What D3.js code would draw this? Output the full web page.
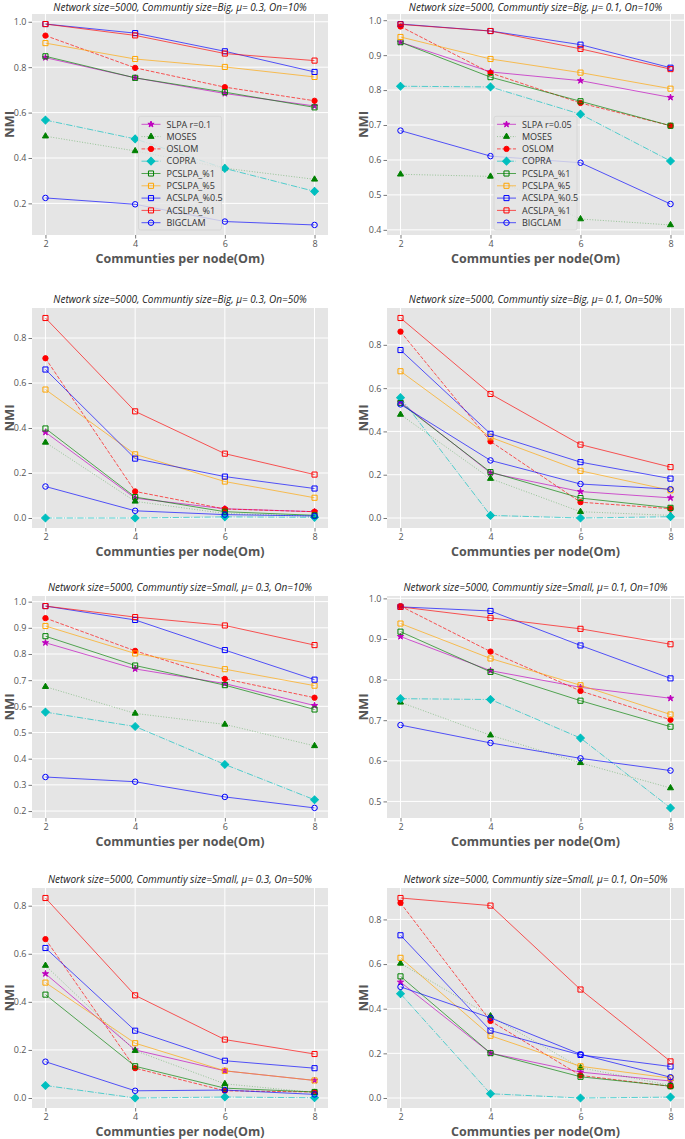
<!DOCTYPE html>
<html><head><meta charset="utf-8">
<script src="https://cdn.jsdelivr.net/npm/d3@7"></script>
<style>
html,body{margin:0;padding:0;background:#fff;}
text{font-family:"Open Sans","DejaVu Sans",sans-serif;}
</style></head>
<body><svg id="c" width="685" height="1139"></svg>
<script>
// ---------- data ----------
const omValues = [2, 4, 6, 8];
const methods = ["SLPA", "MOSES", "OSLOM", "COPRA", "PCSLPA_%1", "PCSLPA_%5", "ACSLPA_%0.5", "ACSLPA_%1", "BIGCLAM"];
const legendLabelsA = ["SLPA r=0.1", "MOSES", "OSLOM", "COPRA", "PCSLPA_%1", "PCSLPA_%5", "ACSLPA_%0.5", "ACSLPA_%1", "BIGCLAM"];
const legendLabelsB = ["SLPA r=0.05", "MOSES", "OSLOM", "COPRA", "PCSLPA_%1", "PCSLPA_%5", "ACSLPA_%0.5", "ACSLPA_%1", "BIGCLAM"];
const titles = [
  "Network size=5000, Communtiy size=Big, μ= 0.3, On=10%",
  "Network size=5000, Communtiy size=Big, μ= 0.1, On=10%",
  "Network size=5000, Communtiy size=Big, μ= 0.3, On=50%",
  "Network size=5000, Communtiy size=Big, μ= 0.1, On=50%",
  "Network size=5000, Communtiy size=Small, μ= 0.3, On=10%",
  "Network size=5000, Communtiy size=Small, μ= 0.1, On=10%",
  "Network size=5000, Communtiy size=Small, μ= 0.3, On=50%",
  "Network size=5000, Communtiy size=Small, μ= 0.1, On=50%"
];
// rows follow `methods` order
const bigMu03On10 = [
  [0.842, 0.753, 0.684, 0.629],
  [0.496, 0.431, 0.355, 0.306],
  [0.939, 0.797, 0.712, 0.652],
  [0.567, 0.484, 0.354, 0.253],
  [0.848, 0.753, 0.690, 0.623],
  [0.906, 0.836, 0.801, 0.757],
  [0.990, 0.950, 0.870, 0.779],
  [0.990, 0.940, 0.860, 0.829],
  [0.224, 0.196, 0.120, 0.105]
];
const bigMu01On10 = [
  [0.937, 0.852, 0.827, 0.779],
  [0.559, 0.553, 0.431, 0.414],
  [0.982, 0.849, 0.763, 0.698],
  [0.811, 0.809, 0.731, 0.597],
  [0.937, 0.837, 0.768, 0.698],
  [0.952, 0.889, 0.850, 0.804],
  [0.989, 0.969, 0.930, 0.864],
  [0.988, 0.969, 0.918, 0.860],
  [0.684, 0.611, 0.592, 0.474]
];
const bigMu03On50 = [
  [0.381, 0.088, 0.041, 0.028],
  [0.336, 0.074, 0.020, 0.008],
  [0.710, 0.118, 0.040, 0.028],
  [0.000, 0.000, 0.005, 0.003],
  [0.398, 0.093, 0.028, 0.012],
  [0.571, 0.283, 0.162, 0.090],
  [0.660, 0.264, 0.184, 0.131],
  [0.889, 0.474, 0.286, 0.193],
  [0.140, 0.032, 0.015, 0.009]
];
const bigMu01On50 = [
  [0.536, 0.208, 0.122, 0.093],
  [0.478, 0.182, 0.029, 0.012],
  [0.861, 0.354, 0.073, 0.043],
  [0.556, 0.012, 0.000, 0.006],
  [0.531, 0.212, 0.092, 0.047],
  [0.678, 0.373, 0.218, 0.128],
  [0.776, 0.389, 0.258, 0.182],
  [0.924, 0.573, 0.339, 0.235],
  [0.525, 0.266, 0.157, 0.133]
];
const smallMu03On10 = [
  [0.843, 0.743, 0.687, 0.603],
  [0.675, 0.573, 0.531, 0.449],
  [0.937, 0.812, 0.705, 0.633],
  [0.578, 0.523, 0.378, 0.243],
  [0.868, 0.756, 0.681, 0.588],
  [0.907, 0.802, 0.742, 0.679],
  [0.983, 0.930, 0.815, 0.702],
  [0.983, 0.941, 0.909, 0.834],
  [0.330, 0.312, 0.254, 0.212]
];
const smallMu01On10 = [
  [0.906, 0.822, 0.781, 0.754],
  [0.744, 0.663, 0.595, 0.533],
  [0.981, 0.869, 0.772, 0.701],
  [0.753, 0.751, 0.656, 0.484],
  [0.918, 0.819, 0.748, 0.684],
  [0.938, 0.852, 0.786, 0.714],
  [0.979, 0.969, 0.884, 0.803],
  [0.979, 0.952, 0.925, 0.887],
  [0.688, 0.644, 0.606, 0.576]
];
const smallMu03On50 = [
  [0.517, 0.200, 0.113, 0.073],
  [0.551, 0.197, 0.059, 0.023],
  [0.661, 0.124, 0.030, 0.025],
  [0.052, 0.000, 0.004, 0.001],
  [0.430, 0.132, 0.041, 0.025],
  [0.480, 0.228, 0.113, 0.073],
  [0.624, 0.280, 0.155, 0.124],
  [0.832, 0.427, 0.243, 0.183],
  [0.151, 0.030, 0.033, 0.015]
];
const smallMu01On50 = [
  [0.519, 0.201, 0.116, 0.076],
  [0.603, 0.367, 0.136, 0.056],
  [0.874, 0.345, 0.101, 0.052],
  [0.467, 0.019, 0.000, 0.004],
  [0.545, 0.201, 0.095, 0.053],
  [0.628, 0.279, 0.142, 0.089],
  [0.729, 0.302, 0.193, 0.141],
  [0.896, 0.862, 0.486, 0.164],
  [0.498, 0.359, 0.196, 0.093]
];
const ticksFine = [0.4, 0.5, 0.6, 0.7, 0.8, 0.9, 1.0];
const ticksFine2 = [0.2, 0.3, 0.4, 0.5, 0.6, 0.7, 0.8, 0.9, 1.0];
const ticksCoarse = [0.0, 0.2, 0.4, 0.6, 0.8, 1.0];
const xTicks = [2, 4, 6, 8];
const xLabel = "Communties per node(Om)";
const yLabel = "NMI";

// ---------- styles ----------
const styles = [
  {color: "#bf00bf", dash: null, op: 0.65, sym: "star", fill: true},
  {color: "#008000", dash: "1,1.65", op: 0.35, sym: "tri", fill: true},
  {color: "#ff0000", dash: "3.7,1.6", op: 0.65, sym: "circle", fill: true},
  {color: "#00bfbf", dash: "6.4,1.6,1,1.6", op: 0.65, sym: "diamond", fill: true},
  {color: "#008000", dash: null, op: 0.65, sym: "square", fill: false},
  {color: "#ffa500", dash: null, op: 0.65, sym: "square", fill: false},
  {color: "#0000ff", dash: null, op: 0.65, sym: "square", fill: false},
  {color: "#ff0000", dash: null, op: 0.65, sym: "square", fill: false},
  {color: "#0000ff", dash: null, op: 0.65, sym: "ocircle", fill: false}
];

const panels = [
  {data: bigMu03On10, ticks: ticksCoarse, legend: legendLabelsA},
  {data: bigMu01On10, ticks: ticksFine, legend: legendLabelsB},
  {data: bigMu03On50, ticks: ticksCoarse},
  {data: bigMu01On50, ticks: ticksCoarse},
  {data: smallMu03On10, ticks: ticksFine2},
  {data: smallMu01On10, ticks: ticksFine},
  {data: smallMu03On50, ticks: ticksCoarse},
  {data: smallMu01On50, ticks: ticksCoarse}
];

const colX = [[32, 328], [387, 684]];
const rowY = [[14, 235], [308, 528], [596, 818], [888, 1108]];

const svg = d3.select("#c");

function drawMarker(g, st, cx, cy) {
  let path;
  if (st.sym === "star") { path = d3.symbol(d3.symbolStar, 12)(); }
  else if (st.sym === "tri") { path = d3.symbol(d3.symbolTriangle, 16)(); }
  else if (st.sym === "circle") { path = d3.symbol(d3.symbolCircle, 22)(); }
  else if (st.sym === "ocircle") { path = d3.symbol(d3.symbolCircle, 24)(); }
  else if (st.sym === "diamond") { path = d3.symbol(d3.symbolSquare, 30)(); }
  else { path = d3.symbol(d3.symbolSquare, 26)(); }
  const p = g.append("path").attr("d", path)
    .attr("transform", `translate(${cx},${cy})` + (st.sym === "diamond" ? " rotate(45)" : ""))
    .attr("stroke", st.color).attr("stroke-width", 1);
  p.attr("fill", st.fill ? st.color : "none");
}

panels.forEach((pn, i) => {
  const [x0, x1] = colX[i % 2];
  const [y0, y1] = rowY[Math.floor(i / 2)];
  const all = pn.data.flat();
  const mn = d3.min(all), mx = d3.max(all), pad = (mx - mn) * 0.05;
  const x = d3.scaleLinear().domain([1.7, 8.3]).range([x0, x1]);
  const y = d3.scaleLinear().domain([mn - pad, mx + pad]).range([y1, y0]);
  const g = svg.append("g");

  g.append("rect").attr("x", x0).attr("y", y0).attr("width", x1 - x0).attr("height", y1 - y0).attr("fill", "#e5e5e5");

  const ticks = pn.ticks.filter(t => t >= y.domain()[0] - 1e-9 && t <= y.domain()[1] + 1e-9);
  g.selectAll(".gy").data(ticks).join("line")
    .attr("x1", x0).attr("x2", x1).attr("y1", d => y(d)).attr("y2", d => y(d))
    .attr("stroke", "#fff").attr("stroke-width", 1);
  g.selectAll(".gx").data(xTicks).join("line")
    .attr("y1", y0).attr("y2", y1).attr("x1", d => x(d)).attr("x2", d => x(d))
    .attr("stroke", "#fff").attr("stroke-width", 1);

  const ya = d3.axisLeft(y).tickValues(ticks).tickFormat(d3.format(".1f")).tickSize(3.5).tickPadding(2);
  const ax = g.append("g").attr("transform", `translate(${x0},0)`).call(ya);
  const xa = d3.axisBottom(x).tickValues(xTicks).tickFormat(d3.format("d")).tickSize(3.5).tickPadding(2);
  const bx = g.append("g").attr("transform", `translate(0,${y1})`).call(xa);
  [ax, bx].forEach(a => {
    a.select(".domain").remove();
    a.selectAll(".tick line").attr("stroke", "#555").attr("stroke-width", 0.8);
    a.selectAll(".tick text").attr("fill", "#555").style("font-size", "9px").style("font-family", '"Open Sans",sans-serif');
  });

  const ty = i < 2 ? 11 : y0 - 5;
  g.append("text").attr("x", (x0 + x1) / 2).attr("y", ty).attr("text-anchor", "middle")
    .style("font-size", "10px").style("font-style", "italic").attr("fill", "#222").text(titles[i]);
  g.append("text").attr("x", (x0 + x1) / 2).attr("y", y1 + 28).attr("text-anchor", "middle")
    .style("font-size", "12.5px").style("font-weight", "bold").attr("fill", "#555").text(xLabel);
  const ylx = i % 2 === 0 ? 14 : 368;
  g.append("text").attr("transform", `translate(${ylx},${(y0 + y1) / 2}) rotate(-90)`).attr("text-anchor", "middle")
    .style("font-size", "13px").style("font-weight", "bold").attr("fill", "#555").text(yLabel);

  const line = d3.line().x((d, k) => x(omValues[k])).y(d => y(d));
  pn.data.forEach((vals, s) => {
    const st = styles[s];
    const sg = g.append("g");
    sg.append("path").attr("d", line(vals)).attr("fill", "none")
      .attr("stroke", st.color).attr("stroke-opacity", st.op).attr("stroke-width", 1)
      .attr("stroke-dasharray", st.dash);
    vals.forEach((v, k) => drawMarker(sg, st, x(omValues[k]), y(v)));
  });

  if (pn.legend) {
    const lw = 83, rowH = 12.3, lh = rowH * pn.legend.length + 3;
    const lx = (x0 + x1) / 2 - lw / 2, ly = y1 - 5 - lh;
    const lg = g.append("g");
    lg.append("rect").attr("x", lx).attr("y", ly).attr("width", lw).attr("height", lh).attr("rx", 2)
      .attr("fill", "#e5e5e5").attr("fill-opacity", 0.8).attr("stroke", "#d4d4d4").attr("stroke-width", 0.8);
    pn.legend.forEach((lab, s) => {
      const st = styles[s];
      const cy = ly + 8 + s * rowH;
      lg.append("line").attr("x1", lx + 3).attr("x2", lx + 22).attr("y1", cy).attr("y2", cy)
        .attr("stroke", st.color).attr("stroke-opacity", st.op).attr("stroke-width", 1)
        .attr("stroke-dasharray", st.dash);
      drawMarker(lg, st, lx + 12.5, cy);
      lg.append("text").attr("x", lx + 28).attr("y", cy + 3.2).style("font-size", "9px").attr("fill", "#333").text(lab);
    });
  }
});
</script></body></html>
